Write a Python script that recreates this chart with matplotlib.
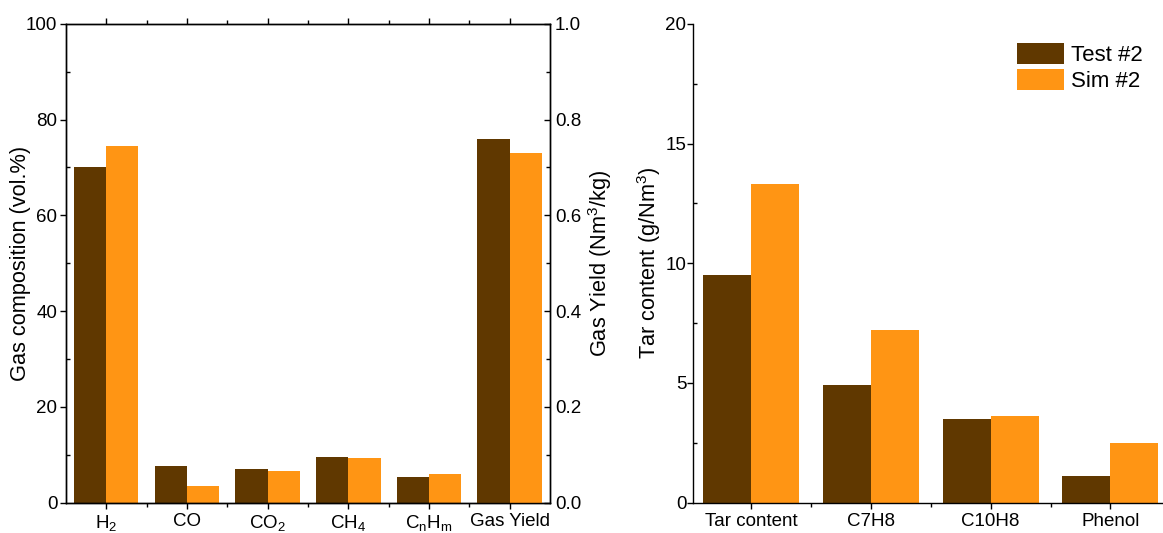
import numpy as np
import matplotlib
matplotlib.use('Agg')
import matplotlib.pyplot as plt
from matplotlib.ticker import MultipleLocator, FixedLocator

plt.rcParams['font.family'] = ['Liberation Sans', 'DejaVu Sans']
plt.rcParams['mathtext.fontset'] = 'custom'
plt.rcParams['mathtext.rm'] = 'Liberation Sans'
plt.rcParams['mathtext.it'] = 'Liberation Sans:italic'

# data
gas_labels = ['H$_2$', 'CO', 'CO$_2$', 'CH$_4$', 'C$_\\mathrm{n}$H$_\\mathrm{m}$', 'Gas Yield']
gas_test = [70.1, 7.7, 7.0, 9.6, 5.3]
gas_sim = [74.4, 3.4, 6.7, 9.3, 5.9]
yield_test = 0.76
yield_sim = 0.73

tar_labels = ['Tar content', 'C7H8', 'C10H8', 'Phenol']
tar_test = [9.5, 4.9, 3.5, 1.1]
tar_sim = [13.3, 7.2, 3.6, 2.5]

c_test = '#603800'
c_sim = '#ff9514'
w = 0.4
fs_tick = 13.5
fs_lab = 15.7

fig = plt.figure(figsize=(11.63, 5.33), dpi=100)

# left panel: gas composition + gas yield on twin axis
ax1 = fig.add_axes([0.0566, 0.0569, 0.4164, 0.8984])
x = np.arange(len(gas_test))
ax1.bar(x - w / 2, gas_test, w, color=c_test)
ax1.bar(x + w / 2, gas_sim, w, color=c_sim)
ax1.set_xlim(-0.5, 5.5)
ax1.set_ylim(0, 100)
ax1.yaxis.set_major_locator(MultipleLocator(20))
ax1.yaxis.set_minor_locator(MultipleLocator(10))
ax1.set_xticks(np.arange(len(gas_labels)))
ax1.set_xticklabels(gas_labels)
ax1.xaxis.set_minor_locator(FixedLocator(np.arange(0.5, 5.5, 1)))
ax1.set_ylabel('Gas composition (vol.%)', fontsize=fs_lab, va='center')
ax1.yaxis.set_label_coords(-0.0946, 0.5)
ax1.tick_params(axis='both', which='major', labelsize=fs_tick, direction='out', length=4, width=1)
ax1.tick_params(axis='y', which='major', pad=2)
ax1.tick_params(axis='y', which='minor', direction='in', length=3, width=1)
ax1.tick_params(axis='x', which='minor', direction='out', length=3, width=1)
ax1.tick_params(axis='x', which='both', top=True)

ax2 = ax1.twinx()
ax2.bar(5 - w / 2, yield_test, w, color=c_test)
ax2.bar(5 + w / 2, yield_sim, w, color=c_sim)
ax2.set_ylim(0, 1.0)
ax2.yaxis.set_major_locator(MultipleLocator(0.2))
ax2.yaxis.set_minor_locator(MultipleLocator(0.1))
ax2.yaxis.set_major_formatter(plt.FormatStrFormatter('%.1f'))
ax2.set_ylabel('Gas Yield (Nm$^3$/kg)', fontsize=fs_lab, va='center')
ax2.yaxis.set_label_coords(1.103, 0.5)
ax2.tick_params(axis='y', which='major', labelsize=fs_tick, direction='in', length=4, width=1)
ax2.tick_params(axis='y', which='minor', direction='in', length=3, width=1)

# right panel: tar content
ax3 = fig.add_axes([0.5955, 0.0569, 0.4035, 0.8984])
xt = np.arange(len(tar_test))
ax3.bar(xt - w / 2, tar_test, w, color=c_test, label='Test #2')
ax3.bar(xt + w / 2, tar_sim, w, color=c_sim, label='Sim #2')
ax3.set_xlim(-0.49, 3.43)
ax3.set_ylim(0, 20)
ax3.yaxis.set_major_locator(MultipleLocator(5))
ax3.yaxis.set_minor_locator(MultipleLocator(2.5))
ax3.set_xticks(xt)
ax3.set_xticklabels(tar_labels)
ax3.xaxis.set_minor_locator(FixedLocator(np.arange(0.5, 3.5, 1)))
ax3.set_ylabel('Tar content (g/Nm$^3$)', fontsize=fs_lab, va='center')
ax3.yaxis.set_label_coords(-0.092, 0.5)
ax3.spines['top'].set_visible(False)
ax3.spines['right'].set_visible(False)
ax3.tick_params(axis='both', which='major', labelsize=fs_tick, direction='out', length=4, width=1)
ax3.tick_params(axis='y', which='major', pad=0.5)
ax3.tick_params(axis='y', which='minor', direction='in', length=3, width=1)
ax3.tick_params(axis='x', which='minor', direction='out', length=3, width=1)
ax3.legend(loc='upper left', bbox_to_anchor=(0.692, 0.96), frameon=False, fontsize=16,
           handlelength=2.1, handleheight=1.05, handletextpad=0.32, labelspacing=0.15,
           borderpad=0, borderaxespad=0)

for a in (ax1, ax2, ax3):
    for s in a.spines.values():
        s.set_linewidth(1)

fig.savefig('out.png', dpi=100)
